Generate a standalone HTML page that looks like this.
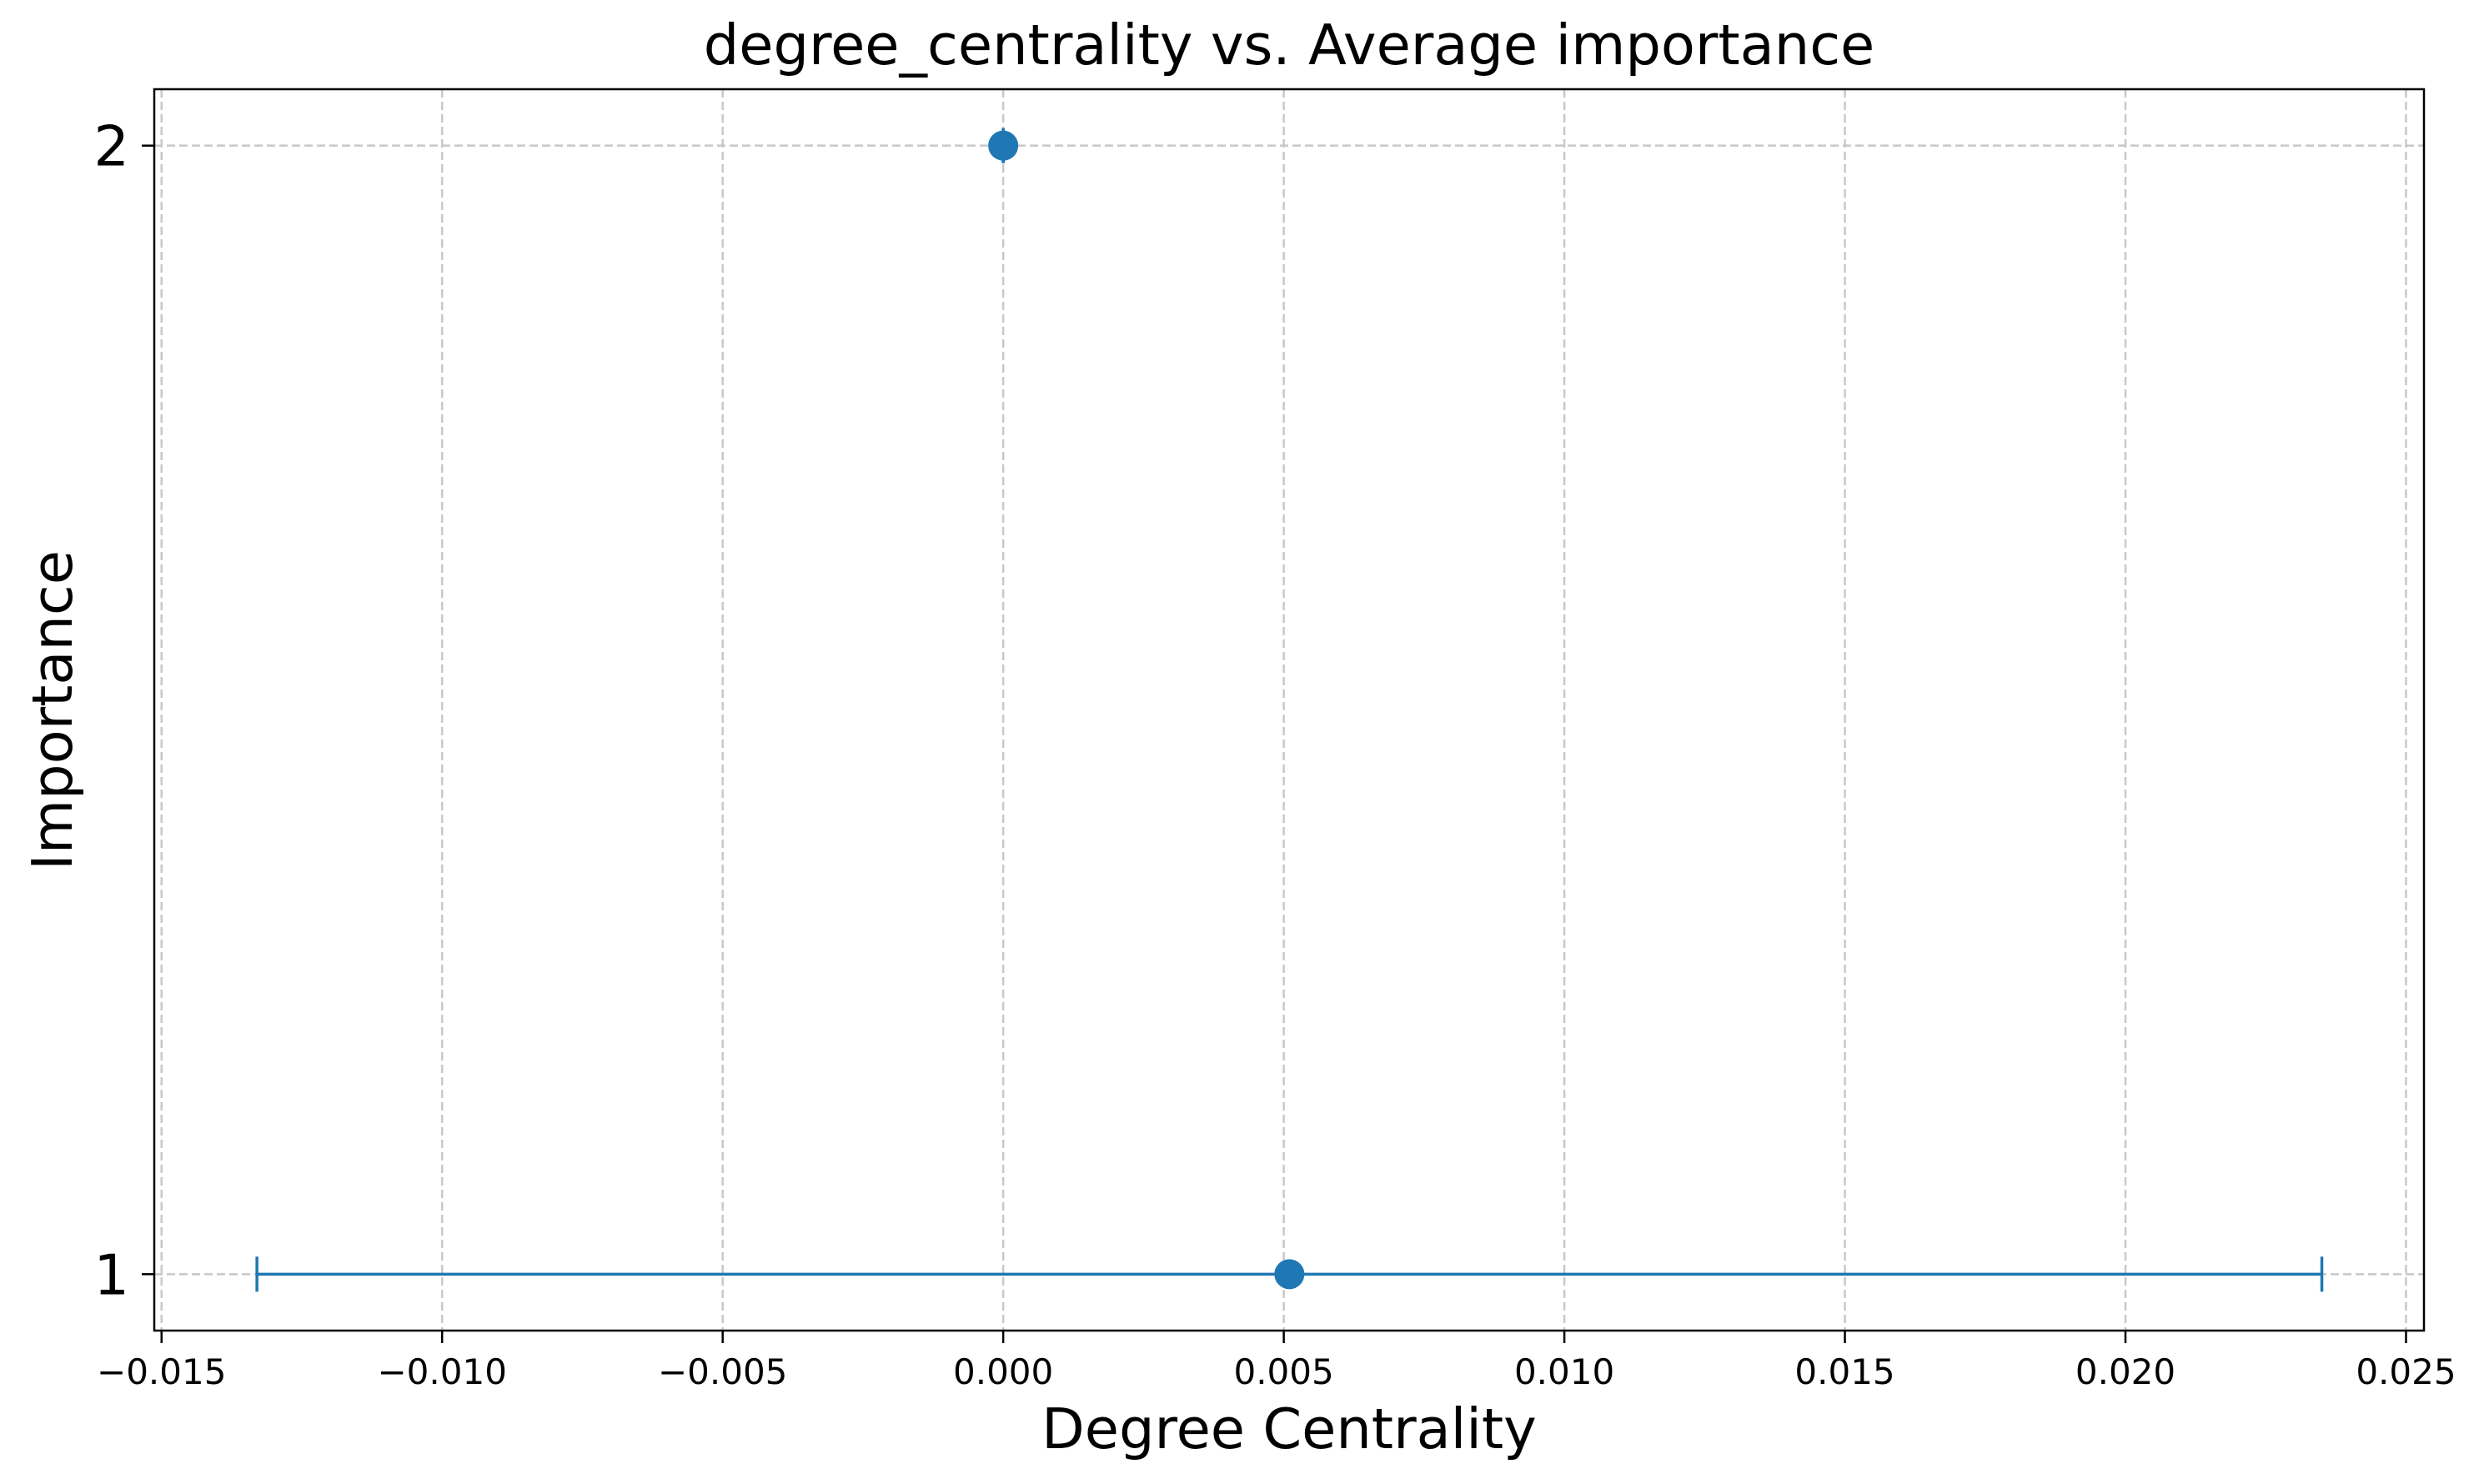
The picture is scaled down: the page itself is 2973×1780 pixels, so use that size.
<!DOCTYPE html>
<html><head><meta charset="utf-8"><style>
html,body{margin:0;padding:0;background:#fff;}
svg{display:block;font-family:"DejaVu Sans","Liberation Sans",sans-serif;}
</style></head><body>
<svg id="chart" width="2973" height="1780" viewBox="0 0 2973 1780" xmlns="http://www.w3.org/2000/svg">
<rect width="2973" height="1780" fill="#fff"/>
<g id="grid"></g>
<g id="marks"></g>
<g id="axes"></g>
<text x="1546" y="77" font-size="67" text-anchor="middle">degree_centrality vs. Average importance</text>
<text x="1546" y="1737" font-size="67" text-anchor="middle">Degree Centrality</text>
<text transform="translate(86,852) rotate(-90)" font-size="67" text-anchor="middle">Importance</text>
</svg>
<script>
const xValues = [0.0, 0.0051];
const yValues = [2, 1];
const xErrors = [0.0, 0.0184];
const xTicks = [-0.015, -0.010, -0.005, 0.000, 0.005, 0.010, 0.015, 0.020, 0.025];
const xTickLabels = ["\u22120.015", "\u22120.010", "\u22120.005", "0.000", "0.005", "0.010", "0.015", "0.020", "0.025"];
const yTicks = [1, 2];
const yTickLabels = ["1", "2"];

const L = 185, R = 2907, T = 107, B = 1596;
const xMin = -0.01513, xMax = 0.02532, yMin = 0.95, yMax = 2.05;
const xs = v => L + (v - xMin) / (xMax - xMin) * (R - L);
const ys = v => B - (v - yMin) / (yMax - yMin) * (B - T);
const NS = "http://www.w3.org/2000/svg";
function mk(parent, tag, attrs) {
  const e = document.createElementNS(NS, tag);
  for (const k in attrs) e.setAttribute(k, attrs[k]);
  parent.appendChild(e);
  return e;
}
const grid = document.getElementById('grid');
const marks = document.getElementById('marks');
const axes = document.getElementById('axes');

xTicks.forEach((t, i) => {
  const x = xs(t);
  const g = mk(grid, 'line', {x1: x, x2: x, y1: T, y2: B, stroke: '#c8c8c8', 'stroke-width': 2.5, 'stroke-dasharray': '10,5'});
  
  
  const tk = mk(axes, 'line', {x1: x, x2: x, y1: B, y2: B + 15, stroke: '#000', 'stroke-width': 2.5});
  
  
  const lb = mk(axes, 'text', {x: x, y: B + 64, 'font-size': 42, 'text-anchor': 'middle'});
  lb.textContent = xTickLabels[i];
  
  
});
yTicks.forEach((t, i) => {
  const y = ys(t);
  const g = mk(grid, 'line', {x1: L, x2: R, y1: y, y2: y, stroke: '#c8c8c8', 'stroke-width': 2.5, 'stroke-dasharray': '10,5'});
  
  
  const tk = mk(axes, 'line', {x1: L - 15, x2: L, y1: y, y2: y, stroke: '#000', 'stroke-width': 2.5});
  
  
  const lb = mk(axes, 'text', {x: L - 30, y: y + 24, 'font-size': 67, 'text-anchor': 'end'});
  lb.textContent = yTickLabels[i];
  
  
});

xValues.forEach((v, i) => {
  const y = ys(yValues[i]);
  const x0 = xs(v - xErrors[i]), x1 = xs(v + xErrors[i]);
  const eb = mk(marks, 'line', {x1: x0, x2: x1, y1: y, y2: y, stroke: '#1f77b4', 'stroke-width': 3.5});
  
  
  [x0, x1].forEach(cx => {
    const c = mk(marks, 'line', {x1: cx, x2: cx, y1: y - 21, y2: y + 21, stroke: '#1f77b4', 'stroke-width': 3.5});
    
    
  });
  const p = mk(marks, 'circle', {cx: xs(v), cy: y, r: 18, fill: '#1f77b4'});
  
  
});

const frame = mk(axes, 'rect', {x: L, y: T, width: R - L, height: B - T, fill: 'none', stroke: '#000', 'stroke-width': 2.5});


</script>
</body></html>
